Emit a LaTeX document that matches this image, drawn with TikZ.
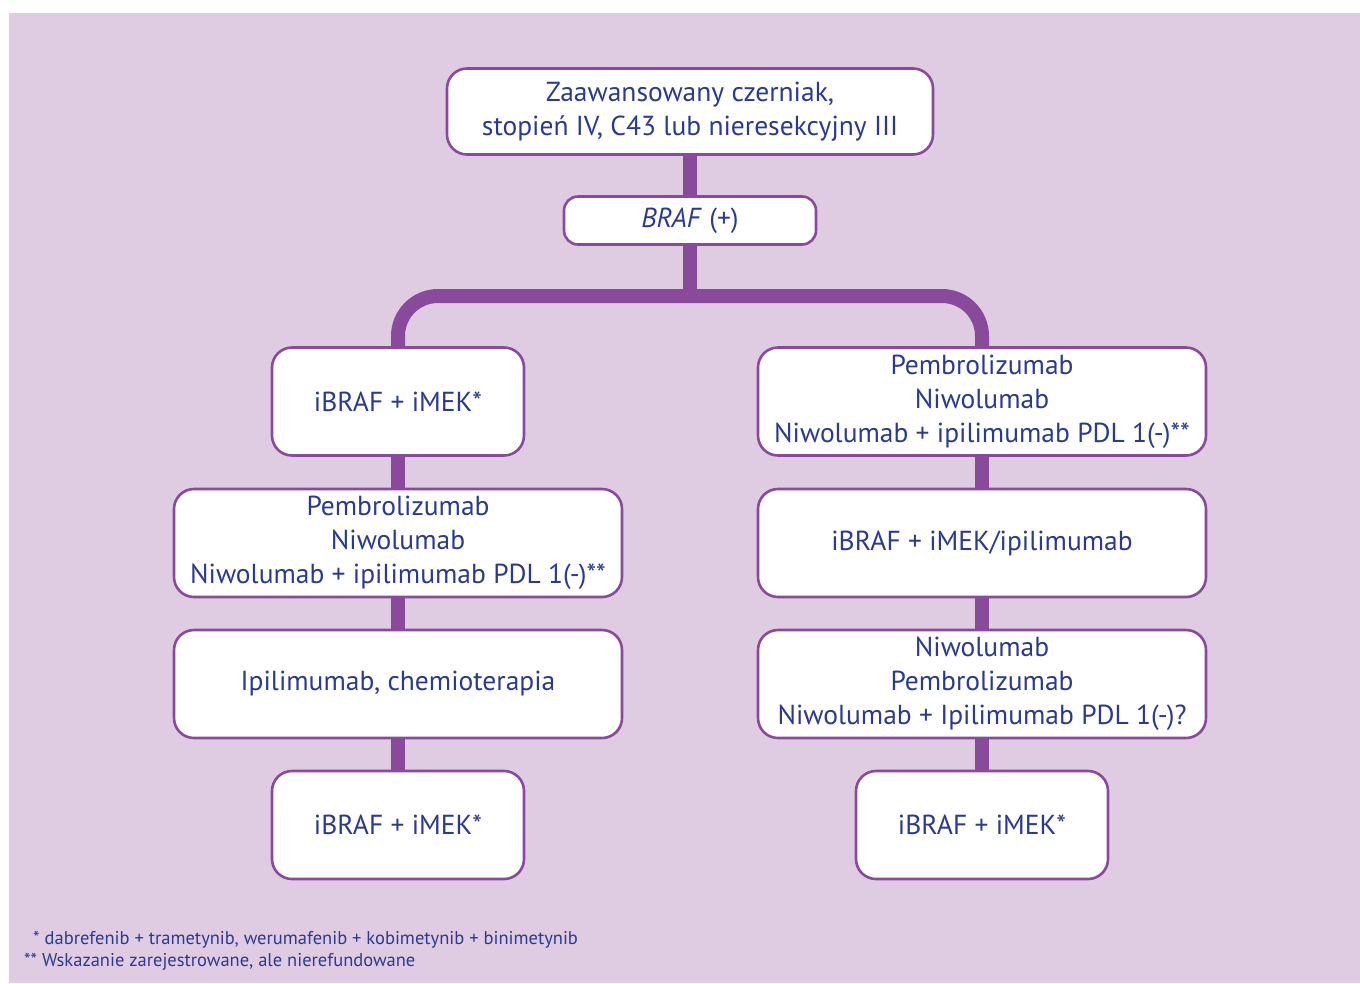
\documentclass[tikz,border=0pt]{standalone}
\usepackage{fontspec}
\setmainfont{PT Sans}
\definecolor{bgpurple}{HTML}{DFCCE3}
\definecolor{linepurple}{HTML}{8A4A9C}
\definecolor{txtblue}{HTML}{2B3A8E}
\pgfdeclarelayer{bg}
\pgfdeclarelayer{lines}
\pgfsetlayers{bg,lines,main}
\tikzset{
  box/.style={draw=linepurple, line width=2.6pt, fill=white, rounded corners=20pt,
    align=center, text=txtblue, inner sep=0pt,
    font=\fontsize{27.5}{34}\selectfont},
  conn/.style={draw=linepurple, line width=14pt},
  note/.style={anchor=west, text=txtblue, inner sep=0pt, font=\fontsize{18.5}{22}\selectfont}
}
\begin{document}
\begin{tikzpicture}[x=1pt,y=-1pt]
\useasboundingbox (0,0) rectangle (1360,983);
\begin{pgfonlayer}{bg}
  \fill[bgpurple] (9,13) rectangle (1360,983);
\end{pgfonlayer}

% top of the tree
\node[box, minimum width=486pt, minimum height=86pt] (top) at (690,111.5)
  {Zaawansowany czerniak,\\stopień IV, C43 lub nieresekcyjny III};
\node[box, minimum width=252pt, minimum height=48pt, rounded corners=14pt] (braf) at (690,220.5)
  {\textit{BRAF} (+)};

% left branch
\node[box, minimum width=252pt, minimum height=108pt] (l1) at (398,401.5) {iBRAF + iMEK*};
\node[box, minimum width=448pt, minimum height=108pt] (l2) at (398,543)
  {Pembrolizumab\\Niwolumab\\Niwolumab + ipilimumab PDL 1(-)**};
\node[box, minimum width=448pt, minimum height=108pt] (l3) at (398,684) {Ipilimumab, chemioterapia};
\node[box, minimum width=252pt, minimum height=108pt] (l4) at (398,825) {iBRAF + iMEK*};

% right branch
\node[box, minimum width=448pt, minimum height=108pt] (r1) at (982,401.5)
  {Pembrolizumab\\Niwolumab\\Niwolumab + ipilimumab PDL 1(-)**};
\node[box, minimum width=448pt, minimum height=108pt] (r2) at (982,543) {iBRAF + iMEK/ipilimumab};
\node[box, minimum width=448pt, minimum height=108pt] (r3) at (982,684)
  {Niwolumab\\Pembrolizumab\\Niwolumab + Ipilimumab PDL 1(-)?};
\node[box, minimum width=252pt, minimum height=108pt] (r4) at (982,825) {iBRAF + iMEK*};

% connectors
\coordinate (split) at (690,296);
\begin{pgfonlayer}{lines}
  \draw[conn] (top.south) -- (braf.north);
  \draw[conn] (braf.south) -- (split);
  \draw[conn, rounded corners=40pt] (l1.north) |- (split) -| (r1.north);
  \draw[conn] (l1.south) -- (l2.north);
  \draw[conn] (l2.south) -- (l3.north);
  \draw[conn] (l3.south) -- (l4.north);
  \draw[conn] (r1.south) -- (r2.north);
  \draw[conn] (r2.south) -- (r3.north);
  \draw[conn] (r3.south) -- (r4.north);
\end{pgfonlayer}

% footnotes
\node[note] (fn1) at (33,940) {* dabrefenib + trametynib, werumafenib + kobimetynib + binimetynib};
\node[note] (fn2) at (24,962) {** Wskazanie zarejestrowane, ale nierefundowane};
\end{tikzpicture}
\end{document}
